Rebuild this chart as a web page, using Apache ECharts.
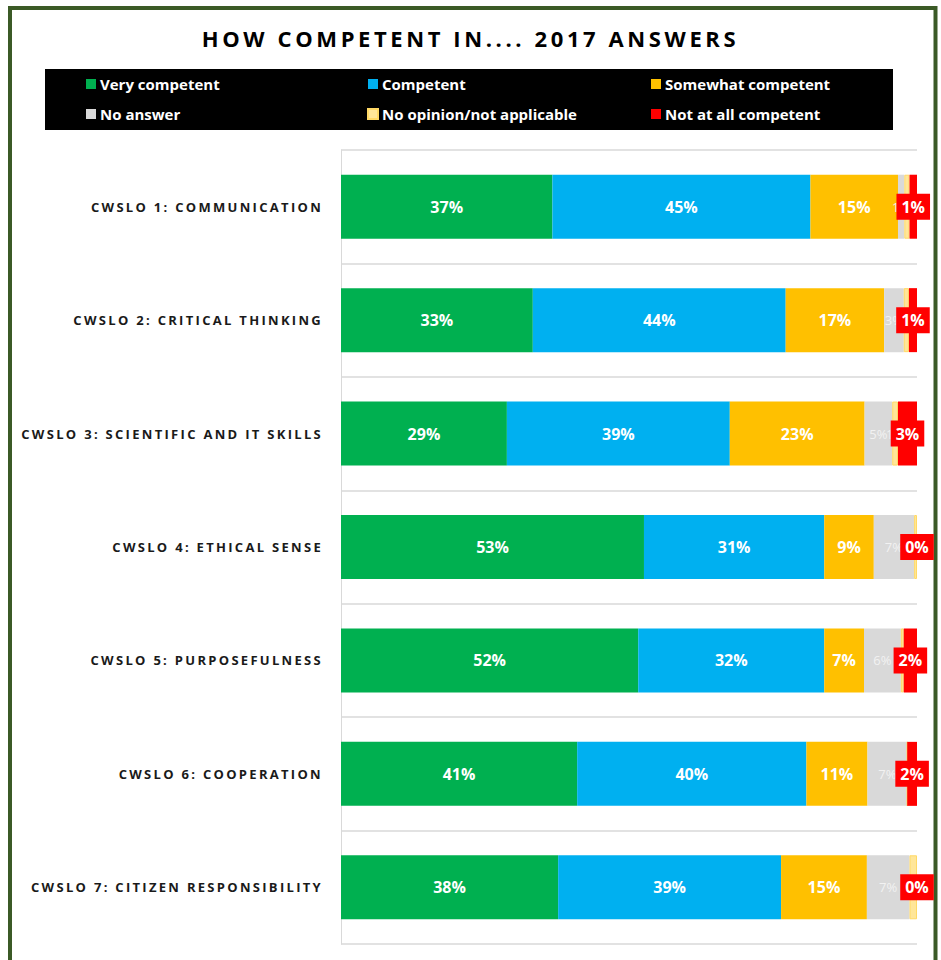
<!DOCTYPE html>
<html>
<head>
<meta charset="utf-8">
<script src="https://cdn.jsdelivr.net/npm/echarts@6/dist/echarts.min.js"></script>
<style>
  html, body { margin: 0; padding: 0; background: #fff; }
  #chart { width: 941px; height: 960px; }
  text[style*="spacedCat"] { letter-spacing: 2.3px; }
  text[style*="spacedTitle"] { letter-spacing: 3.6px; }
</style>
</head>
<body>
<div id="chart"></div>
<script>
const titleText = 'HOW COMPETENT IN.... 2017 ANSWERS';
const categories = [
  'CWSLO 1: COMMUNICATION',
  'CWSLO 2: CRITICAL THINKING',
  'CWSLO 3: SCIENTIFIC AND IT SKILLS',
  'CWSLO 4: ETHICAL SENSE',
  'CWSLO 5: PURPOSEFULNESS',
  'CWSLO 6: COOPERATION',
  'CWSLO 7: CITIZEN RESPONSIBILITY'
];
const seriesNames = ['Very competent', 'Competent', 'Somewhat competent', 'No answer', 'No opinion/not applicable', 'Not at all competent'];
const veryCompetent      = [36.7, 33.3, 28.8, 52.6, 51.6, 41.0, 37.7];
const competent          = [44.8, 43.9, 38.7, 31.3, 32.3, 39.8, 38.7];
const somewhatCompetent  = [15.2, 17.1, 23.4,  8.6,  6.9, 10.6, 14.9];
const noAnswer           = [ 1.1,  3.4,  4.8,  7.0,  6.4,  6.9,  7.4];
const noOpinion          = [ 0.9,  0.9,  1.0,  0.5,  0.5,  0.0,  1.3];
const notAtAll           = [ 1.3,  1.4,  3.3,  0.0,  2.3,  1.7,  0.0];
const colors = ['#00b050', '#00b0f0', '#ffc000', '#d9d9d9', '#ffe699', '#ff0000'];

const chart = echarts.init(document.getElementById('chart'), null, { renderer: 'svg' });
const fmt = p => Math.round(p.value) + '%';
const boldLabel = { show: true, position: 'inside', color: '#fff', fontWeight: 'bold', fontSize: 16, fontFamily: 'Open Sans', formatter: fmt };
const lightLabel = { show: true, position: 'inside', color: '#f2f2f2', fontWeight: 'normal', fontSize: 13, fontFamily: 'Open Sans', formatter: fmt };
const redLabel = { show: true, position: 'inside', color: '#fff', fontWeight: 'bold', fontSize: 16, fontFamily: 'Open Sans', backgroundColor: '#ff0000', padding: [5, 5, 5, 5], formatter: fmt };

const datasets = [veryCompetent, competent, somewhatCompetent, noAnswer, noOpinion, notAtAll];
const labels = [boldLabel, boldLabel, boldLabel, lightLabel, lightLabel, redLabel];

const series = datasets.map((d, i) => ({
  name: seriesNames[i],
  type: 'bar',
  stack: 'total',
  barWidth: 64,
  data: d,
  z: i === 5 ? 4 : 2,
  itemStyle: i === 4 ? { color: colors[i], borderColor: '#ffd966', borderWidth: 1 } : { color: colors[i] },
  label: labels[i],
  emphasis: { disabled: true }
}));

const legendCommon = {
  orient: 'vertical',
  top: 74,
  padding: 0,
  itemWidth: 10,
  itemHeight: 10,
  itemGap: 10,
  icon: 'rect',
  z: 10,
  textStyle: { color: '#fff', fontWeight: 'bold', fontSize: 15, fontFamily: 'Open Sans', lineHeight: 20, padding: [0, 0, 0, -1] }
};

chart.setOption({
  animation: false,
  backgroundColor: '#fff',
  color: colors,
  title: {
    text: titleText,
    left: 'center',
    top: 22,
    textStyle: { fontFamily: "'Open Sans', spacedTitle", fontWeight: 'bold', fontSize: 22, color: '#000' }
  },
  graphic: [
    { type: 'rect', z: 0, shape: { x: 10, y: 8, width: 925.5, height: 1000 }, style: { fill: 'none', stroke: '#3b5a26', lineWidth: 4 } },
    { type: 'rect', z: 0, shape: { x: 45, y: 69, width: 848, height: 61 }, style: { fill: '#000' } }
  ],
  legend: [
    Object.assign({}, legendCommon, { left: 86, data: [seriesNames[0], seriesNames[3]] }),
    Object.assign({}, legendCommon, { left: 367, data: [seriesNames[1], seriesNames[4]] }),
    Object.assign({}, legendCommon, { left: 651, data: [seriesNames[2], seriesNames[5]] })
  ],
  grid: { left: 341, right: 24, top: 150, bottom: 16, containLabel: false },
  xAxis: {
    type: 'value', min: 0, max: 100,
    axisLine: { show: false }, axisTick: { show: false }, axisLabel: { show: false }, splitLine: { show: false }
  },
  yAxis: {
    type: 'category',
    data: categories,
    inverse: true,
    axisLine: { show: true, lineStyle: { color: '#d9d9d9', width: 1 } },
    axisTick: { show: false },
    splitLine: { show: true, lineStyle: { color: '#d9d9d9', width: 1.5 } },
    axisLabel: { margin: 18, color: '#1a1a1a', fontWeight: 'bold', fontSize: 13, fontFamily: "'Open Sans', spacedCat" }
  },
  series: series
});
</script>
</body>
</html>
